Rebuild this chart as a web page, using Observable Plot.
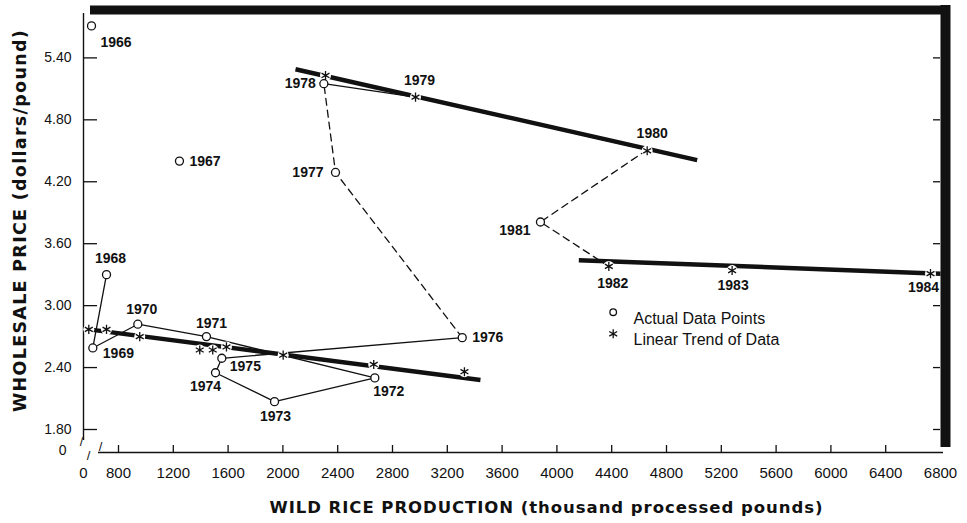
<!DOCTYPE html>
<html><head><meta charset="utf-8">
<script src="https://cdn.jsdelivr.net/npm/d3@7"></script>
<script src="https://cdn.jsdelivr.net/npm/@observablehq/plot@0.6"></script>
<style>body{margin:0;background:#fff}</style>
</head><body><div id="chart"></div>
<script>
// ---- data ----
const years      = [1966, 1967, 1968, 1969, 1970, 1971, 1972, 1973, 1974, 1975, 1976, 1977, 1978, 1979, 1980, 1981, 1982, 1983, 1984];
const production = [183, 1245, 526, 213, 941, 1442, 2671, 1939, 1508, 1554, 3309, 2384, 2299, 2968, 4659, 3880, 4379, 5279, 6727];
const price      = [5.71, 4.40, 3.30, 2.59, 2.82, 2.70, 2.30, 2.07, 2.35, 2.49, 2.69, 4.29, 5.15, 5.02, 4.51, 3.81, 3.38, 3.34, 3.31];
const circledYears = [1966, 1967, 1968, 1969, 1970, 1971, 1972, 1973, 1974, 1975, 1976, 1977, 1978, 1981];
const solidPaths  = [[1968, 1969, 1970, 1971, 1972, 1973, 1974, 1975, 1976], [1978, 1979, 1980]];
const dashedPaths = [[1976, 1977, 1978], [1980, 1981, 1982]];

const trendStarX = [121, 526, 955, 1393, 1488, 1588, 2002, 2663, 3325, 2311, 2968, 4659, 4379, 5279, 6727];
const trendStarY = [2.77, 2.77, 2.70, 2.57, 2.57, 2.60, 2.52, 2.43, 2.36, 5.23, 5.02, 4.50, 3.38, 3.34, 3.31];
const trendLineX = [[121, 3442], [2092, 5024], [4160, 6800]];
const trendLineY = [[2.77, 2.28], [5.29, 4.41], [3.44, 3.31]];

const xTicks = [0, 800, 1200, 1600, 2000, 2400, 2800, 3200, 3600, 4000, 4400, 4800, 5200, 5600, 6000, 6400, 6800];
const yTicks = [0, 1.80, 2.40, 3.00, 3.60, 4.20, 4.80, 5.40];
const xTitle = "WILD RICE PRODUCTION (thousand processed pounds)";
const yTitle = "WHOLESALE PRICE (dollars/pound)";
const legendItems = ["Actual Data Points", "Linear Trend of Data"];

// ---- layout (label placement: anchor, dx, dy) ----
const labelPlace = {
  1966: ["start", 9, 17], 1967: ["start", 10, 0], 1968: ["middle", 4, -16], 1969: ["start", 10, 6],
  1970: ["middle", 4, -15], 1971: ["middle", 5, -13], 1972: ["middle", 14, 14], 1973: ["middle", 1, 15],
  1974: ["middle", -10, 14], 1975: ["start", 8, 8], 1976: ["start", 10, 0], 1977: ["end", -12, 0],
  1978: ["end", -8, 0], 1979: ["middle", 4, -17], 1980: ["middle", 5, -16], 1981: ["end", -10, 8],
  1982: ["middle", 4, 17], 1983: ["middle", 1, 15], 1984: ["middle", -7, 14]
};

const pts = years.map((yr, i) => ({year: yr, x: production[i], y: price[i]}));
const byYear = new Map(pts.map(d => [d.year, d]));
const pathRows = paths => paths.flatMap((p, k) => p.map(yr => ({...byYear.get(yr), path: k})));
const stars = trendStarX.map((x, i) => ({x, y: trendStarY[i]}));
const trendRows = trendLineX.flatMap((xs, k) => xs.map((x, j) => ({x, y: trendLineY[k][j], seg: k})));
const circles = circledYears.map(yr => byYear.get(yr));

const INK = "#111";
const W = 967, H = 523;
const xScale = {type: "linear", domain: [0, 800, 6800], range: [83, 118, 940]};
const yScale = {type: "linear", domain: [0, 1.8, 5.83], range: [452, 429, 13]};
const plotW = 940 - 83, plotH = 452 - 13;
const labelFont = {fontFamily: "Liberation Sans, Arial, sans-serif", fontWeight: "bold", fontSize: 14, fill: INK};

const yearLabels = years.map(yr => {
  const [anchor, dx, dy] = labelPlace[yr];
  return Plot.text([byYear.get(yr)], {x: "x", y: "y", text: d => String(d.year), textAnchor: anchor, dx, dy, ...labelFont});
});

const legendMarks = legendItems.map((item, i) => Plot.text([item], {
  frameAnchor: "top-left", text: d => d, dx: 633 - 83, dy: 311.7 - 13 + i * 21.6,
  fontSize: 16, textAnchor: "start", fill: INK
}));

const chart = Plot.plot({
  width: W, height: H,
  marginLeft: 83, marginRight: W - 940, marginTop: 13, marginBottom: H - 452,
  x: {...xScale, axis: null},
  y: {...yScale, axis: null},
  style: {fontFamily: "Liberation Sans, Arial, sans-serif", fontSize: "14px", color: INK, background: "#fff"},
  marks: [
    // frame / axes
    Plot.ruleX([xTicks[0]], {stroke: INK, strokeWidth: 1.4, insetBottom: 12}),
    Plot.ruleY([yTicks[0]], {stroke: INK, strokeWidth: 1.4, insetLeft: 15, insetRight: -3}),
    Plot.ruleY([yScale.domain[2]], {stroke: INK, strokeWidth: 9, dy: -3.5, insetLeft: 7, insetRight: -10}),
    Plot.ruleX([xTicks[xTicks.length - 1]], {stroke: INK, strokeWidth: 10, dx: 5, insetTop: -8, insetBottom: 5}),
    Plot.ruleX(xTicks.filter(d => d > 0 && d < 6800), {x: d => d, stroke: INK, strokeWidth: 1.3, insetTop: plotH - 7}),
    Plot.ruleY(yTicks.filter(d => d > 0), {y: d => d, stroke: INK, strokeWidth: 1.3, insetRight: plotW - 14}),
    Plot.ruleY(yTicks.filter(d => d > 0), {y: d => d, stroke: INK, strokeWidth: 1.3, insetLeft: plotW - 7}),
    // axis break marks
    Plot.text(["/"], {frameAnchor: "bottom-left", text: d => d, dx: -2, dy: -7, fontSize: 13, textAnchor: "middle", fill: INK}),
    Plot.text(["/"], {frameAnchor: "bottom-left", text: d => d, dx: 5, dy: 7, fontSize: 13, textAnchor: "middle", fill: INK}),
    Plot.text(["/"], {frameAnchor: "bottom-left", text: d => d, dx: 17, dy: -2, fontSize: 13, textAnchor: "middle", fill: INK}),
    // tick labels
    Plot.text(xTicks, {x: d => d, text: d => String(d), frameAnchor: "bottom", dy: 25, fontSize: 15, fill: INK}),
    Plot.text(yTicks.filter(d => d > 0), {y: d => d, text: d => d.toFixed(2), frameAnchor: "left", dx: -12, textAnchor: "end", fontSize: 14, fill: INK}),
    Plot.text(yTicks.filter(d => d === 0), {y: d => d, text: d => "0", frameAnchor: "left", dx: -17, dy: -2, textAnchor: "end", fontSize: 14, fill: INK}),
    // axis titles
    Plot.text([xTitle], {frameAnchor: "bottom", text: d => d, textAnchor: "middle", dx: 34.5, dy: 60.5, fontFamily: "DejaVu Sans", fontWeight: "bold", fontSize: 16.5, fill: INK}),
    Plot.text([yTitle], {frameAnchor: "left", text: d => d, textAnchor: "middle", rotate: -90, dx: -63, dy: -12.5, fontFamily: "DejaVu Sans", fontWeight: "bold", fontSize: 17.5, fill: INK}),
    // actual data paths
    Plot.line(pathRows(solidPaths), {x: "x", y: "y", z: "path", stroke: INK, strokeWidth: 1.3}),
    Plot.line(pathRows(dashedPaths), {x: "x", y: "y", z: "path", stroke: INK, strokeWidth: 1.3, strokeDasharray: "7,5"}),
    // trend lines
    Plot.line(trendRows, {x: "x", y: "y", z: "seg", stroke: INK, strokeWidth: 4.5, strokeLinecap: "butt"}),
    // halos, circles, asterisks
    Plot.dot(stars, {x: "x", y: "y", r: 5.5, fill: "#fff", stroke: null}),
    Plot.dot(circles, {x: "x", y: "y", r: 4, fill: "#fff", stroke: INK, strokeWidth: 1.3}),
    Plot.dot(stars, {x: "x", y: "y", r: 4.3, symbol: "asterisk", stroke: INK, strokeWidth: 1.3, fill: "none"}),
    ...yearLabels,
    // legend
    Plot.dot([legendItems[0]], {frameAnchor: "top-left", dx: 612.7 - 83, dy: 311.7 - 13, r: 3.3, fill: "#fff", stroke: INK, strokeWidth: 1.3}),
    Plot.dot([legendItems[1]], {frameAnchor: "top-left", dx: 612.7 - 83, dy: 333.3 - 13, r: 4.3, symbol: "asterisk", stroke: INK, strokeWidth: 1.3}),
    ...legendMarks
  ]
});
document.getElementById("chart").appendChild(chart);

// widen the titles a little with letter spacing, as in the original lettering
chart.querySelectorAll("text").forEach(t => {
  if (t.textContent === xTitle) t.style.letterSpacing = "0.95px";
  if (t.textContent === yTitle) t.style.letterSpacing = "1.3px";
});
</script>
</body></html>
